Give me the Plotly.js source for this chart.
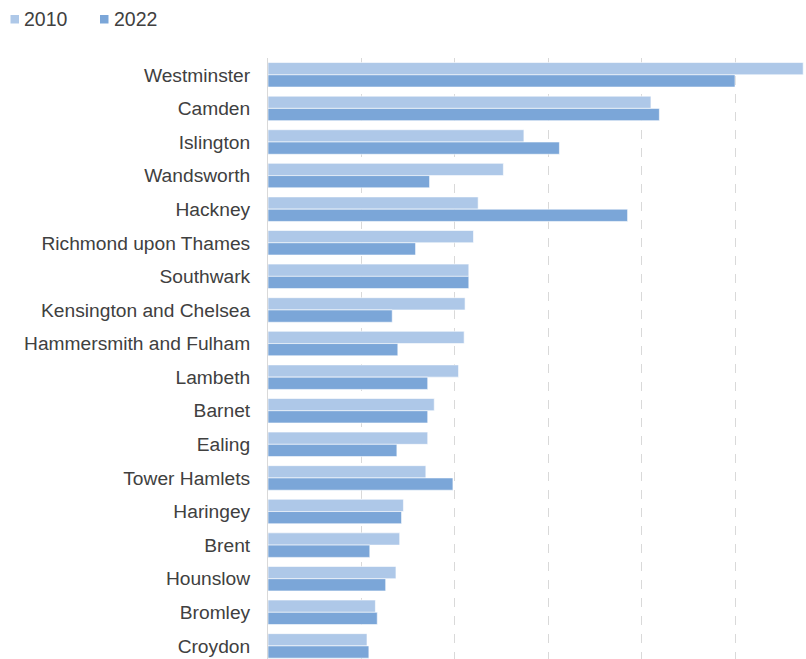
<!DOCTYPE html>
<html>
<head>
<meta charset="utf-8">
<script src="https://cdn.plot.ly/plotly-3.0.1.min.js"></script>
<style>html,body{margin:0;padding:0;background:#fff;}#chart{width:806px;height:659px;}</style>
</head>
<body>
<div id="chart"></div>
<script>
const boroughs = ["Westminster","Camden","Islington","Wandsworth","Hackney","Richmond upon Thames","Southwark","Kensington and Chelsea","Hammersmith and Fulham","Lambeth","Barnet","Ealing","Tower Hamlets","Haringey","Brent","Hounslow","Bromley","Croydon"];
const values2010 = [5.73,4.10,2.74,2.52,2.25,2.20,2.15,2.11,2.10,2.04,1.78,1.71,1.69,1.45,1.41,1.37,1.15,1.06];
const values2022 = [5.00,4.19,3.12,1.73,3.85,1.58,2.15,1.33,1.39,1.71,1.71,1.38,1.98,1.43,1.09,1.26,1.17,1.08];
const seriesNames = ["2010","2022"];
const seriesColors = ["#aec8e8","#7ba6d8"];

// pixel helpers for placing the legend (plot area: x 268..806, y 58..659)
const PL = 268, PW = 538, PB = 659, PH = 601;
const px = v => (v - PL) / PW;
const py = v => (PB - v) / PH;

const traces = seriesNames.map((n, i) => ({
  type:"bar", orientation:"h", name:n, y:boroughs, x:[values2010, values2022][i],
  marker:{color:seriesColors[i], line:{color:"#ffffff", width:0.6}}
}));

const legendX = [[10.5, 21.5], [100, 111.5]];
const shapes = seriesNames.map((n, i) => ({
  type:"rect", xref:"paper", yref:"paper",
  x0:px(legendX[i][0]), x1:px(legendX[i][0] + 8.5), y0:py(23.5), y1:py(15),
  fillcolor:seriesColors[i], line:{width:0}
}));
const annotations = seriesNames.map((n, i) => ({
  text:n, xref:"paper", yref:"paper", x:px(legendX[i][1]), y:py(19),
  xanchor:"left", yanchor:"middle", showarrow:false,
  font:{size:19.5, color:"#404040"}
}));

const layout = {
  width:806, height:659,
  margin:{l:268, r:0, t:58, b:0},
  paper_bgcolor:"#fff", plot_bgcolor:"#fff",
  barmode:"group", bargap:0.27, bargroupgap:0,
  font:{family:"Liberation Sans, Arial, sans-serif", size:19.2, color:"#404040"},
  showlegend:false,
  shapes:shapes, annotations:annotations,
  xaxis:{range:[0,5.76], dtick:1, showticklabels:false, showgrid:true, gridcolor:"#d9d9d9",
         griddash:"dash", gridwidth:1, zeroline:false, showline:false, ticks:""},
  yaxis:{type:"category", range:[17.39,-0.5], showline:true, linecolor:"#d9d9d9", linewidth:1,
         ticks:"", ticklabelstandoff:13, showgrid:false, tickfont:{size:19.2, color:"#404040"}}
};
Plotly.newPlot("chart", traces, layout, {displayModeBar:false, staticPlot:true});
</script>
</body>
</html>
